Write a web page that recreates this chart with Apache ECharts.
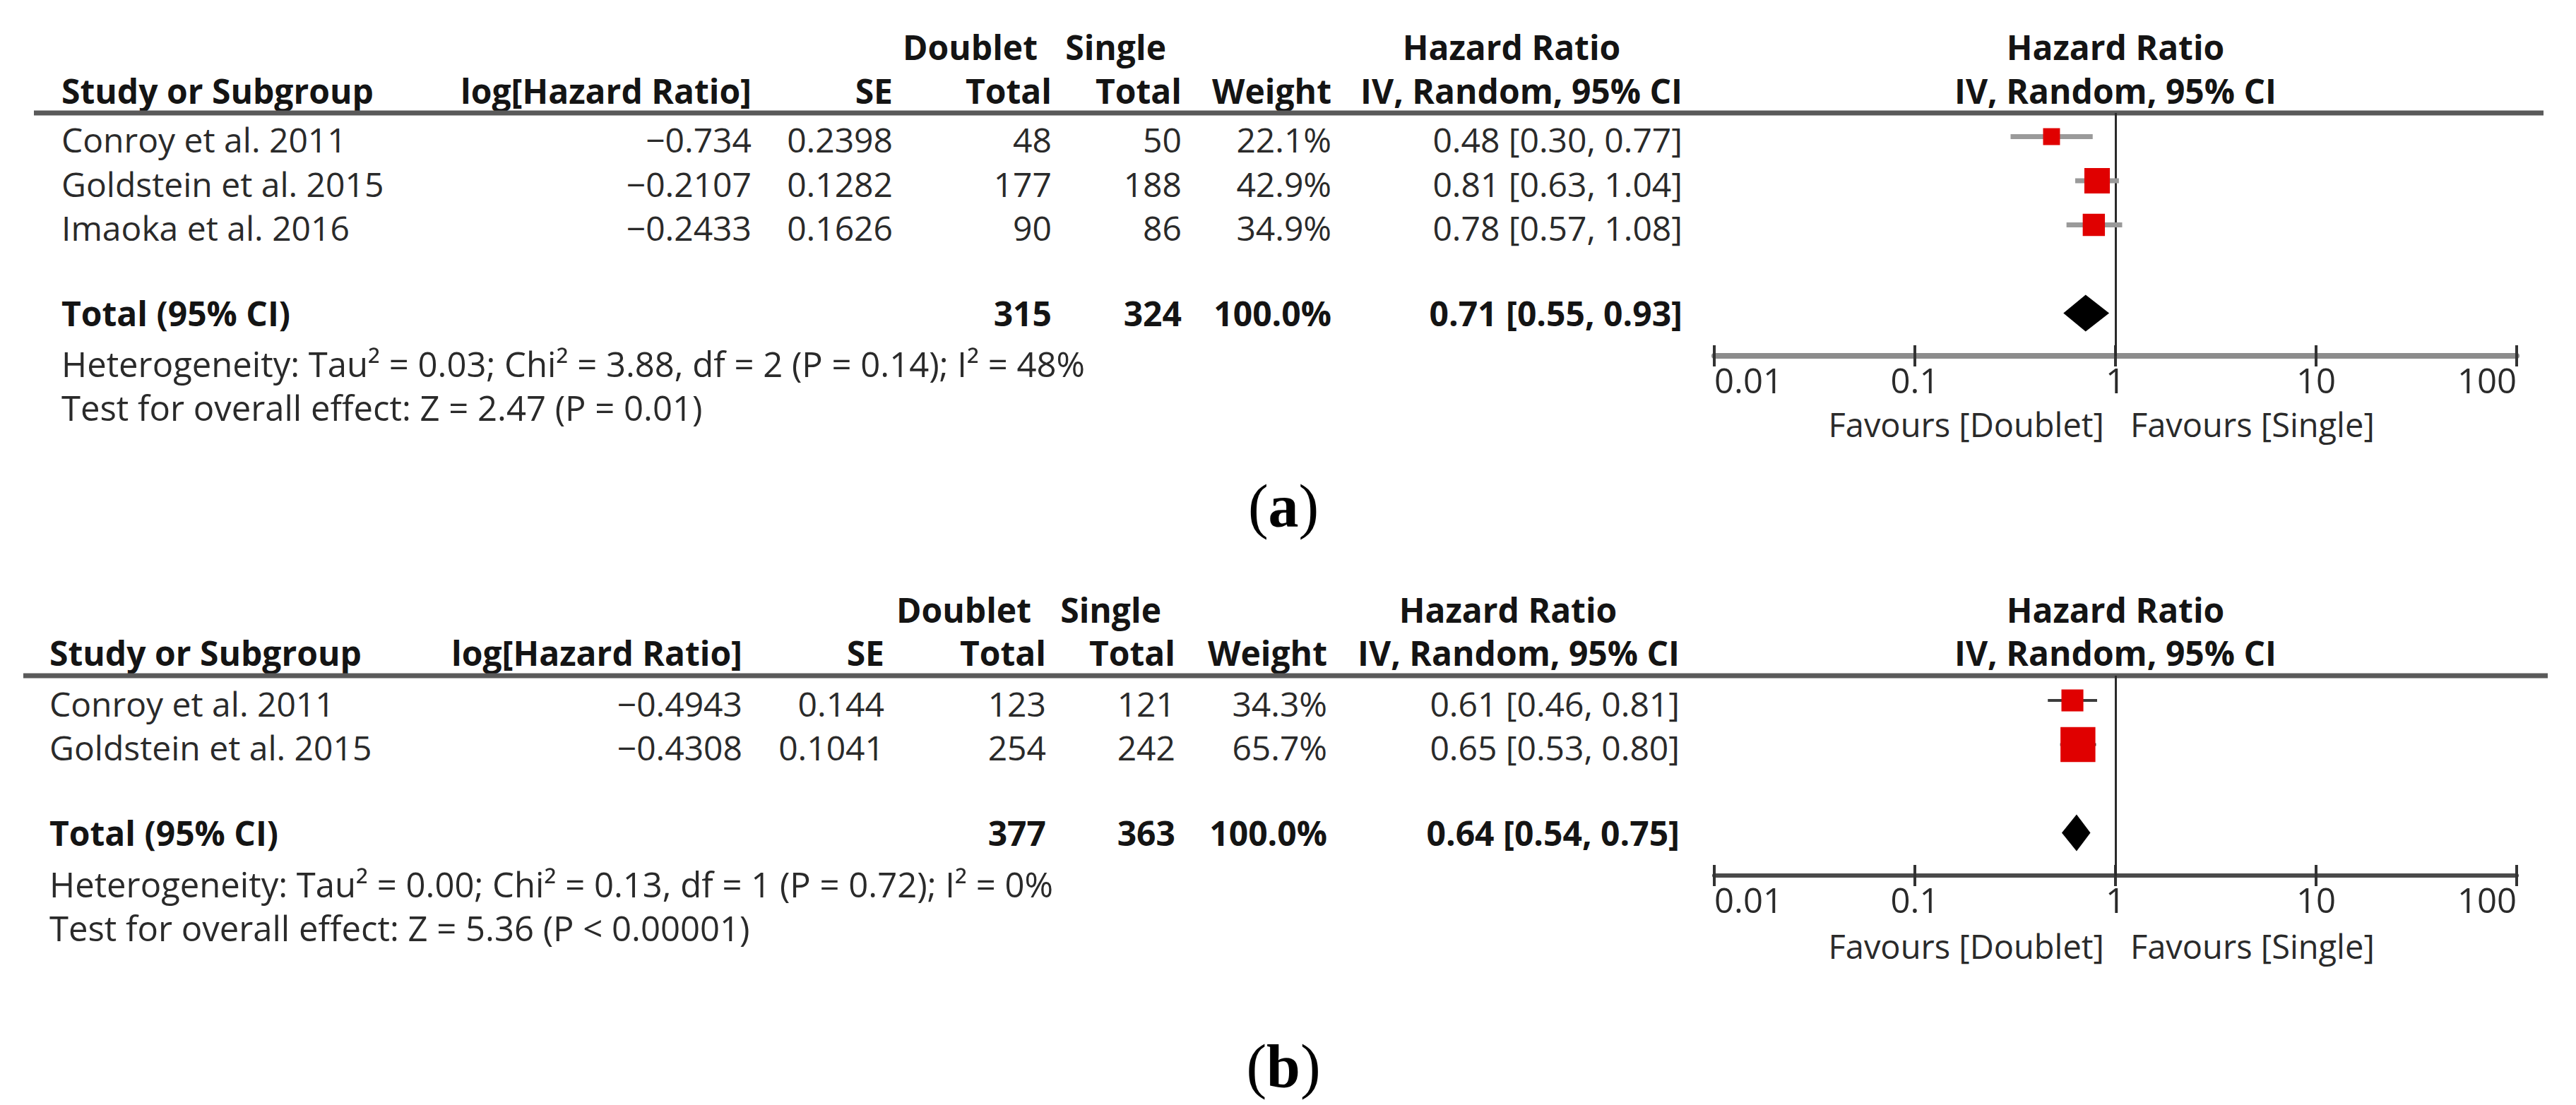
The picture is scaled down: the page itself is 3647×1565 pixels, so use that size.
<!DOCTYPE html>
<html>
<head>
<meta charset="utf-8">
<script src="https://cdn.jsdelivr.net/npm/echarts@6/dist/echarts.min.js"></script>
<style>
html,body{margin:0;padding:0;background:#ffffff;}
#chart{width:3647px;height:1565px;}
</style>
</head>
<body>
<div id="chart"></div>
<script>
// ---------------- DATA ----------------
// Panel (a)
const studiesA = ['Conroy et al. 2011', 'Goldstein et al. 2015', 'Imaoka et al. 2016'];
const logHrA = [-0.734, -0.2107, -0.2433];
const seA = [0.2398, 0.1282, 0.1626];
const doubletA = [48, 177, 90];
const singleA = [50, 188, 86];
const weightA = [22.1, 42.9, 34.9];
const hrA = [0.48, 0.81, 0.78];
const loA = [0.30, 0.63, 0.57];
const hiA = [0.77, 1.04, 1.08];
const totalCountsA = [315, 324];
const totalWeightA = [100.0];
const totalHrA = [0.71, 0.55, 0.93];
const hetA = ['0.03', '3.88', '2', '0.14', '48'];
const testA = ['2.47', 'P = 0.01'];

// Panel (b)
const studiesB = ['Conroy et al. 2011', 'Goldstein et al. 2015'];
const logHrB = [-0.4943, -0.4308];
const seB = [0.144, 0.1041];
const doubletB = [123, 254];
const singleB = [121, 242];
const weightB = [34.3, 65.7];
const hrB = [0.61, 0.65];
const loB = [0.46, 0.53];
const hiB = [0.81, 0.80];
const totalCountsB = [377, 363];
const totalWeightB = [100.0];
const totalHrB = [0.64, 0.54, 0.75];
const hetB = ['0.00', '0.13', '1', '0.72', '0'];
const testB = ['5.36', 'P < 0.00001'];

// Axis
const tickValues = [0.01, 0.1, 1, 10, 100];
const tickLabels = ['0.01', '0.1', '1', '10', '100'];
const favourLabels = ['Favours [Doublet]', 'Favours [Single]'];
const captions = ['a', 'b'];

// ---------------- LAYOUT ----------------
const FONT = 'Open Sans';
const FS = 48;
const FOOT_FS = 49;
const TXT = '#2a2a2a';
const BOLD = '#141414';
const plotLeft = 2427, plotRight = 3563;
const pitch = 62.5;

const panels = [
  {
    studies: studiesA, logHr: logHrA, se: seA, d: doubletA, s: singleA, w: weightA,
    hr: hrA, lo: loA, hi: hiA, tc: totalCountsA, tw: totalWeightA, th: totalHrA, het: hetA, test: testA,
    hdr1: 66, hdr2: 128, line: 160, lineX1: 48, lineX2: 3601, row0: 193.5, axisY: 504,
    hetY: 515, testY: 577, labY: 601, capY: 717,
    cols: {study: 87, log: 1064, se: 1264, d: 1489, s: 1673, w: 1885, ci: 2382, dh: 1469, sh: 1651, hrc: 2140},
    ciColor: '#9a9a9a', ciWidth: 7, axisColor: '#8c8c8c', axisWidth: 8
  },
  {
    studies: studiesB, logHr: logHrB, se: seB, d: doubletB, s: singleB, w: weightB,
    hr: hrB, lo: loB, hi: hiB, tc: totalCountsB, tw: totalWeightB, th: totalHrB, het: hetB, test: testB,
    hdr1: 863, hdr2: 924, line: 957, lineX1: 33, lineX2: 3607, row0: 992, axisY: 1240,
    hetY: 1252, testY: 1314, labY: 1340, capY: 1510,
    cols: {study: 70, log: 1051, se: 1252, d: 1481, s: 1664, w: 1879, ci: 2378, dh: 1460, sh: 1644, hrc: 2135},
    ciColor: '#3c3c3c', ciWidth: 4, axisColor: '#4a4a4a', axisWidth: 6
  }
];

const fmtLog = v => (v < 0 ? '\u2212' : '') + String(Math.abs(v));
const fmtCI = (h, l, u) => h.toFixed(2) + ' [' + l.toFixed(2) + ', ' + u.toFixed(2) + ']';

function txt(x, y, text, align, bold, size, color) {
  return {
    type: 'text', x: x, y: y, silent: true,
    style: {
      text: text, fontFamily: FONT, fontSize: size || FS,
      fontWeight: bold ? 'bold' : 'normal',
      fill: color || (bold ? BOLD : TXT),
      align: align, verticalAlign: 'middle'
    }
  };
}

const graphics = [];
const grids = [], xAxes = [], yAxes = [], series = [];

panels.forEach((p, k) => {
  const c = p.cols;
  const mid = (plotLeft + plotRight) / 2;
  // headers
  graphics.push(txt(c.dh, p.hdr1, 'Doublet', 'right', true));
  graphics.push(txt(c.sh, p.hdr1, 'Single', 'right', true));
  graphics.push(txt(c.hrc, p.hdr1, 'Hazard Ratio', 'center', true));
  graphics.push(txt(mid, p.hdr1, 'Hazard Ratio', 'center', true));
  graphics.push(txt(c.study, p.hdr2, 'Study or Subgroup', 'left', true));
  graphics.push(txt(c.log, p.hdr2, 'log[Hazard Ratio]', 'right', true));
  graphics.push(txt(c.se, p.hdr2, 'SE', 'right', true));
  graphics.push(txt(c.d, p.hdr2, 'Total', 'right', true));
  graphics.push(txt(c.s, p.hdr2, 'Total', 'right', true));
  graphics.push(txt(c.w, p.hdr2, 'Weight', 'right', true));
  graphics.push(txt(c.ci, p.hdr2, 'IV, Random, 95% CI', 'right', true));
  graphics.push(txt(mid, p.hdr2, 'IV, Random, 95% CI', 'center', true));
  // header rule
  graphics.push({
    type: 'line', silent: true,
    shape: {x1: p.lineX1, y1: p.line, x2: p.lineX2, y2: p.line},
    style: {stroke: '#5a5a5a', lineWidth: 7}
  });
  // study rows
  p.studies.forEach((name, i) => {
    const y = p.row0 + i * pitch + 4;
    graphics.push(txt(c.study, y, name, 'left', false));
    graphics.push(txt(c.log, y, fmtLog(p.logHr[i]), 'right', false));
    graphics.push(txt(c.se, y, String(p.se[i]), 'right', false));
    graphics.push(txt(c.d, y, String(p.d[i]), 'right', false));
    graphics.push(txt(c.s, y, String(p.s[i]), 'right', false));
    graphics.push(txt(c.w, y, p.w[i].toFixed(1) + '%', 'right', false));
    graphics.push(txt(c.ci, y, fmtCI(p.hr[i], p.lo[i], p.hi[i]), 'right', false));
  });
  const totalRow = p.studies.length + 1;
  const ty = p.row0 + totalRow * pitch;
  graphics.push(txt(c.study, ty, 'Total (95% CI)', 'left', true));
  graphics.push(txt(c.d, ty, String(p.tc[0]), 'right', true));
  graphics.push(txt(c.s, ty, String(p.tc[1]), 'right', true));
  graphics.push(txt(c.w, ty, p.tw[0].toFixed(1) + '%', 'right', true));
  graphics.push(txt(c.ci, ty, fmtCI(p.th[0], p.th[1], p.th[2]), 'right', true));
  graphics.push(txt(c.study, p.hetY,
    'Heterogeneity: Tau\u00B2 = ' + p.het[0] + '; Chi\u00B2 = ' + p.het[1] + ', df = ' + p.het[2] +
    ' (P = ' + p.het[3] + '); I\u00B2 = ' + p.het[4] + '%', 'left', false, FOOT_FS));
  graphics.push(txt(c.study, p.testY, 'Test for overall effect: Z = ' + p.test[0] + ' (' + p.test[1] + ')', 'left', false, FOOT_FS));
  // favours labels
  graphics.push(txt(mid - 16, p.labY, favourLabels[0], 'right', false, 47));
  graphics.push(txt(mid + 21, p.labY, favourLabels[1], 'left', false, 47));
  // caption
  graphics.push({
    type: 'text', x: 1817, y: p.capY, silent: true,
    style: {
      text: '{p|(}{b|' + captions[k] + '}{p|)}',
      align: 'center', verticalAlign: 'middle',
      rich: {
        p: {fontFamily: 'Liberation Serif', fontSize: 86, fill: '#000'},
        b: {fontFamily: 'Liberation Serif', fontSize: 86, fontWeight: 'bold', fill: '#000'}
      }
    }
  });

  // grid & axes
  grids.push({
    left: plotLeft, width: plotRight - plotLeft,
    top: p.line, height: p.axisY - p.line, containLabel: false
  });
  const ymin = (p.line - p.row0) / pitch;
  const ymax = (p.axisY - p.row0) / pitch;
  yAxes.push({
    type: 'value', gridIndex: k, inverse: true, min: ymin, max: ymax, show: false
  });
  const labelFmt = v => {
    const idx = tickValues.findIndex(t => Math.abs(Math.log10(t) - Math.log10(v)) < 1e-6);
    return idx >= 0 ? tickLabels[idx] : '';
  };
  xAxes.push({
    type: 'log', logBase: 10, gridIndex: k, min: tickValues[0], max: tickValues[tickValues.length - 1],
    position: 'bottom',
    axisLine: {show: true, onZero: false, lineStyle: {color: p.axisColor, width: p.axisWidth}},
    axisTick: {show: true, inside: false, length: 15, lineStyle: {color: '#333', width: 4}},
    axisLabel: {
      show: true, margin: 9, fontFamily: FONT, fontSize: 49, color: TXT,
      alignMinLabel: 'left', alignMaxLabel: 'right',
      formatter: labelFmt
    },
    splitLine: {show: false}
  });
  xAxes.push({
    type: 'log', logBase: 10, gridIndex: k, min: tickValues[0], max: tickValues[tickValues.length - 1],
    position: 'bottom', offset: 0,
    axisLine: {show: false, onZero: false},
    axisTick: {show: true, inside: true, length: 15, lineStyle: {color: '#333', width: 4}},
    axisLabel: {show: false},
    splitLine: {show: false}
  });

  const studyData = p.hr.map((h, i) => [h, i, p.lo[i], p.hi[i], p.w[i]]);
  series.push({
    type: 'custom', xAxisIndex: 2 * k, yAxisIndex: k, silent: true, z: 5,
    data: studyData,
    renderItem: (params, api) => {
      const y = api.value(1);
      const pl = api.coord([api.value(2), y]);
      const ph = api.coord([api.value(3), y]);
      const pm = api.coord([api.value(0), y]);
      const s = 11 + 0.585 * api.value(4);
      return {
        type: 'group',
        children: [
          {type: 'line', shape: {x1: pl[0], y1: pl[1], x2: ph[0], y2: ph[1]},
            style: {stroke: p.ciColor, lineWidth: p.ciWidth}},
          {type: 'rect', shape: {x: pm[0] - s / 2, y: pm[1] - s / 2, width: s, height: s},
            style: {fill: '#e00000'}}
        ]
      };
    },
    markLine: {
      silent: true, symbol: 'none', label: {show: false},
      lineStyle: {color: '#2a2a2a', width: 3, type: 'solid'},
      data: [{xAxis: 1}]
    }
  });
  series.push({
    type: 'custom', xAxisIndex: 2 * k, yAxisIndex: k, silent: true, z: 6,
    data: [[p.th[0], totalRow, p.th[1], p.th[2]]],
    renderItem: (params, api) => {
      const y = api.value(1);
      const pl = api.coord([api.value(2), y]);
      const ph = api.coord([api.value(3), y]);
      const pm = api.coord([api.value(0), y]);
      const hh = 26;
      return {
        type: 'polygon',
        shape: {points: [[pl[0], pl[1]], [pm[0], pm[1] - hh], [ph[0], ph[1]], [pm[0], pm[1] + hh]]},
        style: {fill: '#000'}
      };
    }
  });
});

const chart = echarts.init(document.getElementById('chart'), null, {renderer: 'svg', width: 3647, height: 1565});
chart.setOption({
  backgroundColor: '#ffffff',
  animation: false,
  grid: grids,
  xAxis: xAxes,
  yAxis: yAxes,
  series: series,
  graphic: graphics
});
</script>
</body>
</html>
